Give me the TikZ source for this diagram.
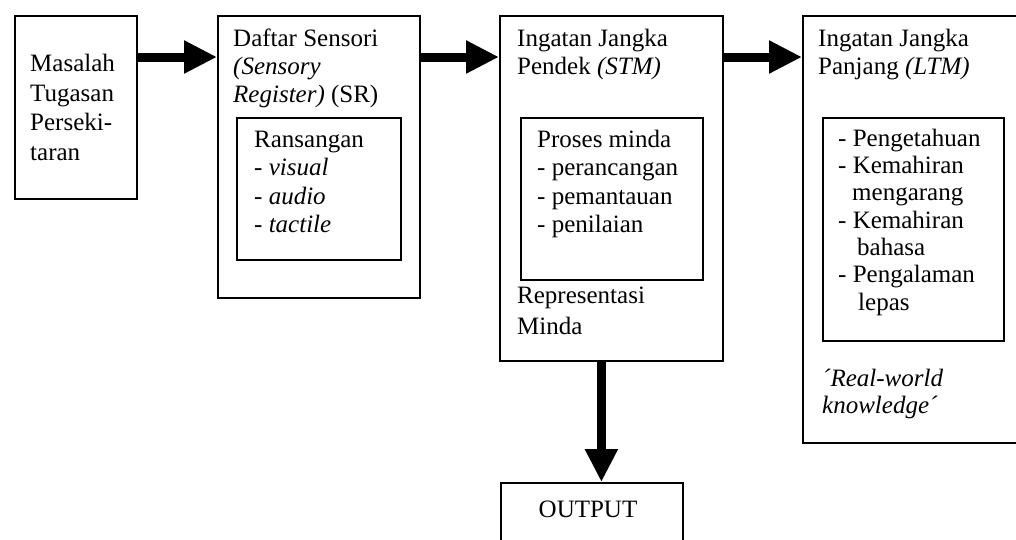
\documentclass[tikz,border=0pt]{standalone}
\usepackage{fontspec}
\setmainfont{Liberation Serif}
\usetikzlibrary{arrows.meta}
\begin{document}
\begin{tikzpicture}[x=1pt,y=-1pt,
  box/.style={draw, line width=1.8pt, anchor=north west, inner sep=0pt},
  txt/.style={anchor=north west, inner sep=0pt, align=left, font=\fontsize{25}{28.5}\selectfont},
  bigarrow/.style={line width=9pt, -{Triangle[length=33pt,width=31pt]}}]
\clip (0,0) rectangle (1016,539);
\fill[white] (0,0) rectangle (1016,539);
% boxes
\node[box, minimum width=122pt, minimum height=183pt] (b1) at (14,15) {};
\node[box, minimum width=202pt, minimum height=282pt] (b2) at (217,15) {};
\node[box, minimum width=164pt, minimum height=142pt] (b2in) at (236,117) {};
\node[box, minimum width=223pt, minimum height=345pt] (b3) at (499,15) {};
\node[box, minimum width=182pt, minimum height=162pt] (b3in) at (520,117) {};
\node[box, minimum width=240pt, minimum height=427pt] (b4) at (802,15) {};
\node[box, minimum width=181pt, minimum height=223pt] (b4in) at (822,117) {};
\node[box, minimum width=182pt, minimum height=80pt] (out) at (500,482) {};
% texts
\node[txt, font=\fontsize{25}{29.5}\selectfont] (t1) at (30,51)
  {\strut Masalah\\\strut Tugasan\\\strut Perseki-\\\strut taran};
\node[txt, font=\fontsize{25}{28}\selectfont] (t2) at (233,27)
  {\strut Daftar Sensori\\\strut\textit{(Sensory}\\\strut\textit{Register)} (SR)};
\node[txt] (t2in) at (254,127)
  {\strut Ransangan\\\strut - \textit{visual}\\\strut - \textit{audio}\\\strut - \textit{tactile}};
\node[txt, font=\fontsize{25}{28}\selectfont] (t3) at (517,27)
  {\strut Ingatan Jangka\\\strut Pendek \textit{(STM)}};
\node[txt] (t3in) at (537,127)
  {\strut Proses minda\\\strut - perancangan\\\strut - pemantauan\\\strut - penilaian};
\node[txt, font=\fontsize{25}{31}\selectfont] (t3b) at (517,282)
  {\strut Representasi\\\strut Minda};
\node[txt, font=\fontsize{25}{28}\selectfont] (t4) at (818,27)
  {\strut Ingatan Jangka\\\strut Panjang \textit{(LTM)}};
\node[txt, font=\fontsize{25}{27.3}\selectfont] (t4in) at (838,127)
  {\strut - Pengetahuan\\\strut - Kemahiran\\\strut\hspace*{14pt}mengarang\\\strut - Kemahiran\\\strut\hspace*{19pt}bahasa\\\strut - Pengalaman\\\strut\hspace*{20pt}lepas};
\node[txt, font=\fontsize{25}{27}\selectfont] (t4b) at (822,367)
  {\strut\textit{´Real-world}\\\strut\textit{knowledge´}};
\node[anchor=base, inner sep=0pt, font=\fontsize{25}{28.5}\selectfont] (tout) at (588,517) {OUTPUT};
% arrows
\draw[bigarrow] ([yshift=-42pt]b1.north east) -- ([yshift=-42pt]b2.north west);
\draw[bigarrow] ([yshift=-42pt]b2.north east) -- ([yshift=-42pt]b3.north west);
\draw[bigarrow] ([yshift=-42pt]b3.north east) -- ([yshift=-42pt]b4.north west);
\draw[bigarrow] ([xshift=-10pt]b3.south) -- ([xshift=9.5pt]out.north);
\end{tikzpicture}
\end{document}
